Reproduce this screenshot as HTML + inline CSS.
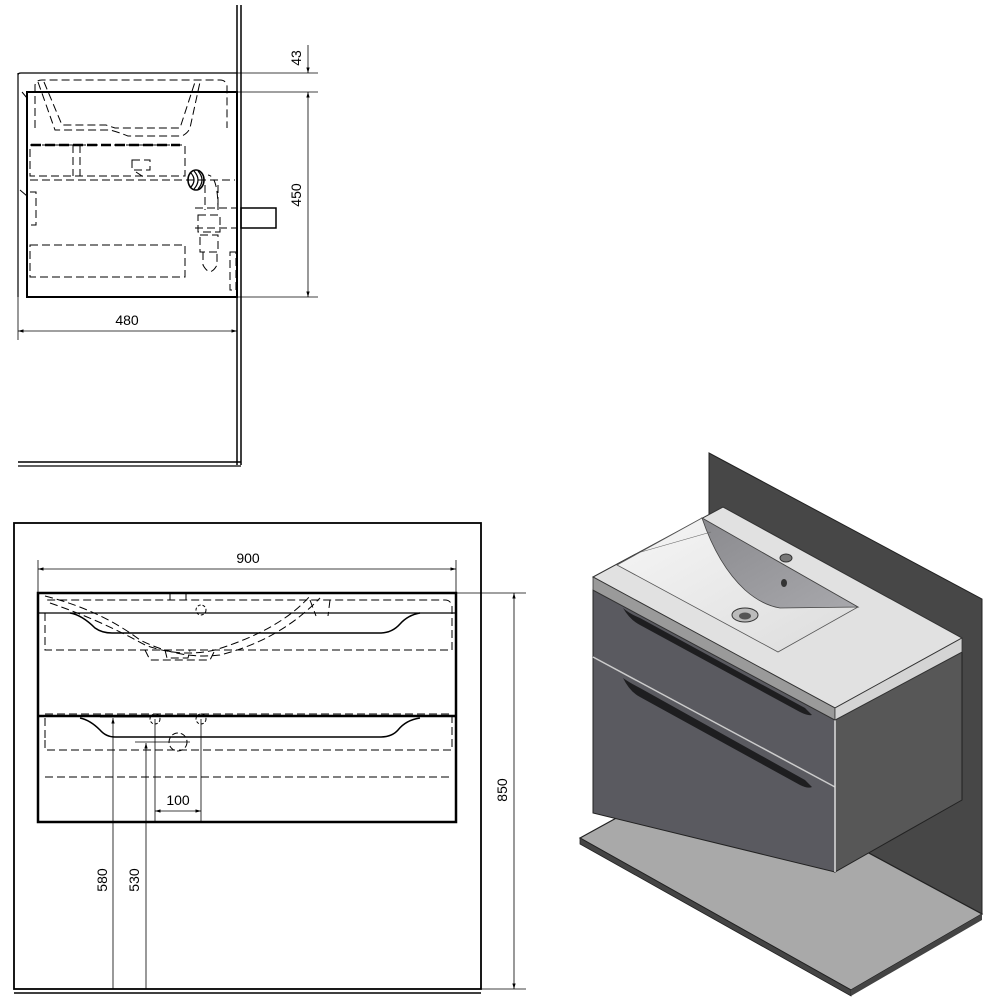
<!DOCTYPE html>
<html><head><meta charset="utf-8"><style>
html,body{margin:0;padding:0;background:#fff;width:1000px;height:1000px;overflow:hidden}
text{font-family:"Liberation Sans",sans-serif;font-size:14px;fill:#000}
</style></head><body>
<svg width="1000" height="1000" viewBox="0 0 1000 1000" xmlns="http://www.w3.org/2000/svg">
<defs>
<marker id="a" viewBox="0 0 10 10" refX="10" refY="5" markerWidth="7" markerHeight="7" orient="auto-start-reverse"><path d="M0,2 L10,5 L0,8 z" fill="#000"/></marker>
<linearGradient id="bs" x1="0" y1="0" x2="1" y2="1"><stop offset="0" stop-color="#f6f6f6"/><stop offset="1" stop-color="#dcdcdc"/></linearGradient>
<linearGradient id="dk" x1="0" y1="0" x2="1" y2="1"><stop offset="0" stop-color="#8a8a8e"/><stop offset="1" stop-color="#a8a8ac"/></linearGradient>
</defs>
<g fill="none" stroke="#000">
<line x1="237" y1="5" x2="237" y2="465" stroke-width="1.5"/>
<line x1="241" y1="5" x2="241" y2="465" stroke-width="1.5"/>
<line x1="18" y1="462" x2="241" y2="462" stroke-width="1.5"/>
<line x1="18" y1="466" x2="241" y2="466" stroke-width="1.2"/>
<path d="M18,75 Q18,73 21,73 L237,73" stroke-width="1.2"/>
<line x1="18" y1="73" x2="18" y2="297" stroke-width="1.2"/>
<rect x="27" y="92" width="210" height="205" stroke-width="2"/>
<line x1="27" y1="92" x2="237" y2="92" stroke-width="1.5"/>
<g stroke-dasharray="8,4" stroke-width="1">
<path d="M35,128 L35,85 Q36,80 42,80 L220,80 Q226,80 227,86 L227,128"/>
<path d="M38,82 L55,130 L110,130 Q118,132 128,136 L182,136 Q188,133 190,128 L200,82"/>
<path d="M44,82 L62,125 L106,125 L115,128 L150,128 L180,128 L195,82"/>
<path d="M30,145 L185,145 L185,176 L30,176 Z"/>
<path d="M30,180 L235,180"/>
<path d="M30,245 L185,245 L185,277 L30,277 Z"/>
<path d="M30,192 L36,192 L36,225 L30,225"/>
<path d="M73,145 L73,176 M80,145 L80,176"/>
<path d="M132,160 L150,160 L150,170 L132,170 Z M136,172 L145,178"/>
<path d="M205,185 L205,210 M218,185 L218,210 Q218,176 208,175"/>
<path d="M198,215 L220,215 L220,232 L198,232 Z M200,235 L218,235 L218,252 L200,252 Z"/>
<path d="M203,252 L203,265 Q210,278 217,265 L217,252"/>
<path d="M230,252 L236,252 L236,290 L230,290 Z"/>
<path d="M195,208 L237,208 M195,228 L237,228"/>
</g>
<ellipse cx="196" cy="180" rx="8" ry="10" stroke-width="1.6"/>
<path d="M190,172 Q198,180 190,188 M194,171 Q202,180 194,189 M198,171 Q206,180 198,189" stroke-width="1.2"/>
<line x1="31" y1="145" x2="180" y2="145" stroke-width="2.5" stroke-dasharray="10,4"/>
<rect x="241" y="208" width="35" height="20" stroke-width="1.5"/>
<line x1="22" y1="92" x2="27" y2="98" stroke-width="1"/>
<line x1="20" y1="190" x2="27" y2="196" stroke-width="1"/>
<line x1="237" y1="73" x2="318" y2="73" stroke-width="0.8"/>
<line x1="237" y1="92" x2="318" y2="92" stroke-width="0.8"/>
<line x1="237" y1="297" x2="318" y2="297" stroke-width="0.8"/>
<line x1="308" y1="45" x2="308" y2="73" stroke-width="0.8" marker-end="url(#a)"/>
<line x1="308" y1="92" x2="308" y2="297" stroke-width="0.8" marker-start="url(#a)" marker-end="url(#a)"/>
<line x1="18" y1="297" x2="18" y2="340" stroke-width="0.8"/>
<line x1="18" y1="331" x2="237" y2="331" stroke-width="0.8" marker-start="url(#a)" marker-end="url(#a)"/>

<rect x="14" y="523" width="467" height="466" stroke-width="1.8"/>
<line x1="14" y1="993" x2="481" y2="993" stroke-width="1.5"/>
<rect x="38" y="593" width="418" height="229" stroke-width="2.5"/>
<line x1="38" y1="613" x2="456" y2="613" stroke-width="1.3"/>
<line x1="38" y1="716" x2="456" y2="716" stroke-width="2.5"/>
<path d="M70,613 Q82,615 95,628 Q102,633 112,633 L380,633 Q392,633 400,624 Q408,615 420,613" stroke-width="1.5"/>
<path d="M80,718 Q90,720 100,730 Q106,737 115,737 L380,737 Q392,737 398,730 Q406,720 420,718" stroke-width="1.5"/>
<g stroke-dasharray="8,4" stroke-width="1">
<path d="M45,613 L45,650 L452,650 L452,605 Q450,600 445,600 L45,600"/>
<path d="M45,596 Q100,610 140,640 Q180,660 220,655 Q280,640 320,598"/>
<path d="M50,603 Q100,620 145,645 Q180,658 215,650 Q280,630 310,596"/>
<path d="M145,650 L150,660 L210,660 L215,650"/>
<path d="M165,650 L167,658 L188,658 L190,650"/>
<path d="M45,738 L45,714 L452,714 L452,750 L45,750 Z"/>
<path d="M45,777 L452,777"/>
<path d="M310,600 L316,616 M330,600 L328,616"/>
<path d="M170,593 L170,600 M186,593 L186,600"/>
</g>
<circle cx="201" cy="610" r="5" stroke-dasharray="3,2" stroke-width="1"/>
<circle cx="155" cy="719" r="5" stroke-dasharray="3,2" stroke-width="1"/>
<circle cx="201" cy="719" r="5" stroke-dasharray="3,2" stroke-width="1"/>
<circle cx="178" cy="742" r="9" stroke-dasharray="6,3" stroke-width="1"/>
<line x1="135" y1="742" x2="190" y2="742" stroke-width="0.8"/>
<line x1="100" y1="717" x2="150" y2="717" stroke-width="0.8"/>
<line x1="38" y1="560" x2="38" y2="593" stroke-width="0.8"/>
<line x1="456" y1="560" x2="456" y2="593" stroke-width="0.8"/>
<line x1="38" y1="569" x2="456" y2="569" stroke-width="0.8" marker-start="url(#a)" marker-end="url(#a)"/>
<line x1="456" y1="593" x2="526" y2="593" stroke-width="0.8"/>
<line x1="481" y1="989" x2="526" y2="989" stroke-width="0.8"/>
<line x1="514" y1="593" x2="514" y2="989" stroke-width="0.8" marker-start="url(#a)" marker-end="url(#a)"/>
<line x1="113" y1="989" x2="113" y2="718" stroke-width="0.8" marker-end="url(#a)"/>
<line x1="146" y1="989" x2="146" y2="743" stroke-width="0.8" marker-end="url(#a)"/>
<line x1="155" y1="719" x2="155" y2="822" stroke-width="0.8"/>
<line x1="201" y1="719" x2="201" y2="822" stroke-width="0.8"/>
<line x1="155" y1="811" x2="201" y2="811" stroke-width="0.8" marker-start="url(#a)" marker-end="url(#a)"/>
</g>
<text x="296" y="58" transform="rotate(-90 296 58)" text-anchor="middle" dy="5">43</text>
<text x="296" y="195" transform="rotate(-90 296 195)" text-anchor="middle" dy="5">450</text>
<text x="127" y="325" text-anchor="middle">480</text>
<text x="248" y="563" text-anchor="middle">900</text>
<text x="178" y="805" text-anchor="middle">100</text>
<text x="502" y="790" transform="rotate(-90 502 790)" text-anchor="middle" dy="5">850</text>
<text x="102" y="880" transform="rotate(-90 102 880)" text-anchor="middle" dy="5">580</text>
<text x="134" y="880" transform="rotate(-90 134 880)" text-anchor="middle" dy="5">530</text>

<!-- ISO VIEW -->
<polygon points="709,453 982,599 982,914 709,767" fill="#474747" stroke="#222" stroke-width="1"/>
<polygon points="580,838 709,767 982,914 851,990" fill="#a9a9a9" stroke="#222" stroke-width="1.2"/>
<polygon points="580,838 851,990 851,996 580,844" fill="#444" stroke="#222" stroke-width="0.8"/>
<polygon points="851,990 982,914 982,920 851,996" fill="#444"/>
<!-- cabinet -->
<polygon points="593,590 835,720 835,872 593,813" fill="#5a5a60" stroke="#222"/>
<polygon points="835,720 962,652 962,800 835,872" fill="#575757" stroke="#222"/>
<line x1="593" y1="657" x2="835" y2="787" stroke="#ccc" stroke-width="1.5"/>
<line x1="835" y1="720" x2="835" y2="872" stroke="#ddd" stroke-width="1.5"/>
<path d="M623,608 Q630,620 640,625 L800,712 Q808,716 812,715 L805,708 L640,618 Q630,614 623,608Z" fill="#1e1e20"/>
<path d="M623,678 Q630,692 640,697 L800,785 Q808,789 812,787 L805,780 L640,688 Q630,683 623,678Z" fill="#1e1e20"/>
<polygon points="593,577 723,507 962,638 835,708" fill="#e1e1e1" stroke="#333" stroke-width="1"/>
<polygon points="593,577 835,708 835,720 593,590" fill="#9a9a9a" stroke="#333" stroke-width="0.8"/>
<polygon points="835,708 962,638 962,652 835,720" fill="#d4d4d4" stroke="#333" stroke-width="0.8"/>
<polygon points="617,565 702,518 858,607 778,652" fill="url(#bs)" stroke="#555" stroke-width="0.8"/>
<path d="M702,518 Q718,565 745,590 Q762,605 780,608 L858,607 Z" fill="url(#dk)" stroke="#444" stroke-width="0.8"/>
<path d="M641,552 L711,532" fill="none" stroke="#666" stroke-width="0.6"/>
<ellipse cx="745" cy="615" rx="13" ry="7" fill="#bbb" stroke="#333"/>
<ellipse cx="745" cy="616" rx="6" ry="3.5" fill="#555"/>
<ellipse cx="786" cy="558" rx="6" ry="4" fill="#777" stroke="#333"/>
<ellipse cx="784" cy="583" rx="3" ry="4" fill="#333"/>
</svg>
</body></html>
